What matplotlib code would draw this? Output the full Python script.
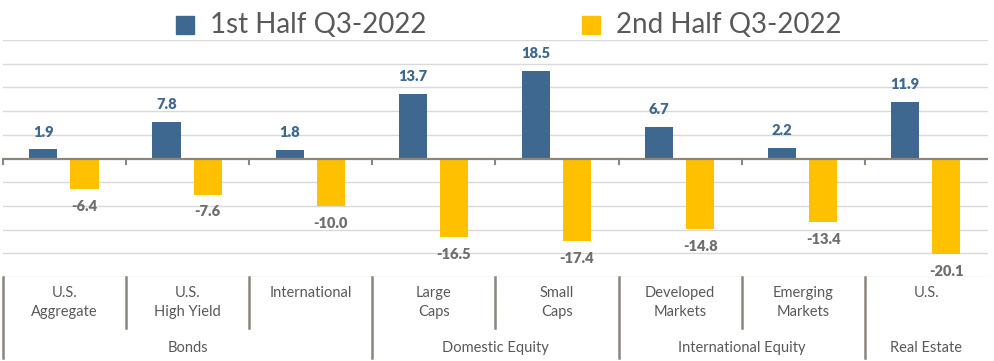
import numpy as np
import matplotlib
matplotlib.use("Agg")
import matplotlib.pyplot as plt
from matplotlib.patches import Rectangle

plt.rcParams['font.family'] = ['Lato', 'DejaVu Sans']

# data
categories = ["U.S.\nAggregate", "U.S.\nHigh Yield", "International", "Large\nCaps",
              "Small\nCaps", "Developed\nMarkets", "Emerging\nMarkets", "U.S."]
groups = ["Bonds", "Domestic Equity", "International Equity", "Real Estate"]
group_sizes = [3, 2, 2, 1]
first_half = [1.9, 7.8, 1.8, 13.7, 18.5, 6.7, 2.2, 11.9]
second_half = [-6.4, -7.6, -10.0, -16.5, -17.4, -14.8, -13.4, -20.1]
series_names = ["1st Half Q3-2022", "2nd Half Q3-2022"]

BLUE = "#3E6890"
GOLD = "#FFC000"
TXT = "#595959"
AXC = "#8C8579"
GRID = "#D9D9D9"

W, H = 995, 361
fig = plt.figure(figsize=(W / 100, H / 100), dpi=100)

# plot area in pixels: x 3..988, y 40..277
x0, x1, ytop, ybot = 3, 988, 40, 277
ax = fig.add_axes([x0 / W, 1 - ybot / H, (x1 - x0) / W, (ybot - ytop) / H])

n = len(categories)
x = np.arange(n) + 0.5
bw = 0.228
ax.bar(x - 0.172, first_half, bw, color=BLUE, zorder=3)
ax.bar(x + 0.162, second_half, bw, color=GOLD, zorder=3)

ax.set_xlim(0, n)
ax.set_ylim(-25, 25)
for v in range(-25, 30, 5):
    if v != 0:
        ax.axhline(v, color=GRID, lw=1.0, zorder=1)
ax.axhline(0, color=AXC, lw=1.6, zorder=4)
for s in ax.spines.values():
    s.set_visible(False)
ax.set_xticks([])
ax.set_yticks([])

# data labels
for xi, v in zip(x - 0.172, first_half):
    ax.annotate(f"{v:.1f}", (xi, v), xytext=(0, 12.5), textcoords="offset points",
                ha="center", va="center", fontsize=10.5, fontweight="heavy", color=BLUE)
for xi, v in zip(x + 0.162, second_half):
    ax.annotate(f"{v:.1f}", (xi, v), xytext=(0, -12.5), textcoords="offset points",
                ha="center", va="center", fontsize=10.5, fontweight="heavy", color="#6E6E6E")

# category axis
trans = ax.get_xaxis_transform()
ph = ybot - ytop
def ay(py):
    return -(py - ybot) / ph

bounds = np.concatenate([[0], np.cumsum(group_sizes)])
for k in range(n):
    ax.plot([k, k], [0.5, 0.5 - 5 / ph], color=AXC, lw=1.5, transform=trans, clip_on=False)
    deep = k in bounds
    ax.plot([k, k], [0, ay(358 if deep else 328)], color=AXC, lw=1.8,
            transform=trans, clip_on=False)

for xi, lab in zip(x, categories):
    ax.text(xi, ay(286), lab, ha="center", va="top", fontsize=10.5, color=TXT,
            linespacing=1.45, transform=trans)
for g, a, b in zip(groups, bounds[:-1], bounds[1:]):
    ax.text((a + b) / 2, ay(348), g, ha="center", va="center", fontsize=10.5,
            color=TXT, transform=trans)

# legend
for (sx, tx), col, name in zip([(176, 210), (582, 616)], [BLUE, GOLD], series_names):
    fig.patches.append(Rectangle((sx / W, 1 - 34 / H), 18 / W, 18 / H,
                                 transform=fig.transFigure, color=col, figure=fig))
    fig.text(tx / W, 1 - 25 / H, name, ha="left", va="center", fontsize=20, color=TXT)

fig.savefig("out.png", dpi=100)
